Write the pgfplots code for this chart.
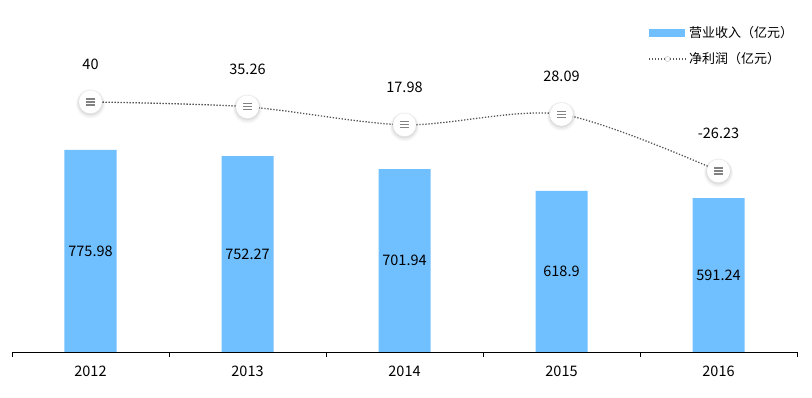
\documentclass[border=0pt]{standalone}
\usepackage{fontspec}
\setmainfont{Noto Sans CJK SC}
\usepackage{pgfplots}
\usepackage{pgfplotstable}
\pgfplotsset{compat=1.18}
\definecolor{barblue}{RGB}{112,191,255}
\definecolor{linegray}{RGB}{85,85,85}
\definecolor{icongray}{RGB}{130,130,130}

\pgfplotstableread{
x year rev half
0 2012 775.98 387.99
1 2013 752.27 376.135
2 2014 701.94 350.97
3 2015 618.9 309.45
4 2016 591.24 295.62
}\revtable
\pgfplotstableread{
x year profit
0 2012 40
1 2013 35.26
2 2014 17.98
3 2015 28.09
4 2016 -26.23
}\proftable

\pgfdeclareplotmark{burger}{%
  \pgfsetdash{}{0pt}%
  \pgfsetlinewidth{1.3pt}%
  \pgfsetstrokecolor{icongray}%
  \pgfpathmoveto{\pgfpoint{-4.5pt}{3pt}}\pgfpathlineto{\pgfpoint{4.5pt}{3pt}}%
  \pgfpathmoveto{\pgfpoint{-4.5pt}{0pt}}\pgfpathlineto{\pgfpoint{4.5pt}{0pt}}%
  \pgfpathmoveto{\pgfpoint{-4.5pt}{-3pt}}\pgfpathlineto{\pgfpoint{4.5pt}{-3pt}}%
  \pgfusepath{stroke}%
}

\begin{document}
\begin{tikzpicture}[x=1pt,y=1pt]
\useasboundingbox (0,0) rectangle (812,398);
\begin{axis}[
  at={(12pt,46pt)}, anchor=south west,
  scale only axis, width=785pt, height=332pt,
  xmin=-0.5, xmax=4.5, ymin=0, ymax=1275,
  axis y line=none,
  axis x line*=bottom,
  axis line style={black, line width=0.8pt},
  xtick={0,1,2,3,4},
  xticklabels={2012,2013,2014,2015,2016},
  major x tick style={draw=none},
  minor xtick={-0.5,0.5,1.5,2.5,3.5,4.5},
  minor x tick style={black, line width=0.8pt},
  minor tick length=5pt,
  tick align=outside,
  xticklabel style={font=\fontsize{14.5}{16}\selectfont, yshift=-6pt},
  clip=false,
]
\addplot[ybar, bar width=52pt, fill=barblue, draw=none] table[x=x, y=rev] {\revtable};
\addplot[draw=none, mark=none, nodes near coords, point meta=explicit symbolic,
  every node near coord/.style={anchor=center, font=\fontsize{14.5}{16}\selectfont, text=black}]
  table[x=x, y=half, meta=rev] {\revtable};
\end{axis}
\begin{axis}[
  at={(12pt,46pt)}, anchor=south west,
  scale only axis, width=785pt, height=332pt,
  xmin=-0.5, xmax=4.5, ymin=-200, ymax=118.6,
  hide axis,
  clip=false,
]
\addplot[linegray, line width=1.3pt, dash pattern=on 1.3pt off 1.7pt, smooth]
  table[x=x, y=profit] {\proftable};
% marker shadow layers
\addplot[only marks, mark=*, mark size=14.5pt, mark options={draw opacity=0, fill=black, fill opacity=0.03, yshift=-2pt}]
  table[x=x, y=profit] {\proftable};
\addplot[only marks, mark=*, mark size=13.5pt, mark options={draw opacity=0, fill=black, fill opacity=0.04, yshift=-1.5pt}]
  table[x=x, y=profit] {\proftable};
\addplot[only marks, mark=*, mark size=12.5pt, mark options={draw opacity=0, fill=black, fill opacity=0.06, yshift=-1pt}]
  table[x=x, y=profit] {\proftable};
\addplot[only marks, mark=*, mark size=11.5pt, mark options={draw opacity=0, fill=white, fill opacity=1}]
  table[x=x, y=profit] {\proftable};
\addplot[only marks, mark=burger,
  nodes near coords, point meta=explicit symbolic,
  every node near coord/.style={anchor=center, yshift=38pt, font=\fontsize{14.5}{16}\selectfont, text=black}]
  table[x=x, y=profit, meta=profit] {\proftable};
\end{axis}
% legend
\fill[barblue] (649,361) rectangle (685,369);
\node[anchor=west, inner sep=0pt, font=\fontsize{13}{15}\selectfont] at (689,365) {营业收入（亿元）};
\draw[linegray, line width=1.3pt, dash pattern=on 1.3pt off 1.7pt] (649,339) -- (686,339);
\filldraw[draw=black!20, fill=white, line width=0.6pt] (667.5,339) circle (2.5);
\node[anchor=west, inner sep=0pt, font=\fontsize{13}{15}\selectfont] at (689,339) {净利润（亿元）};
\end{tikzpicture}
\end{document}
